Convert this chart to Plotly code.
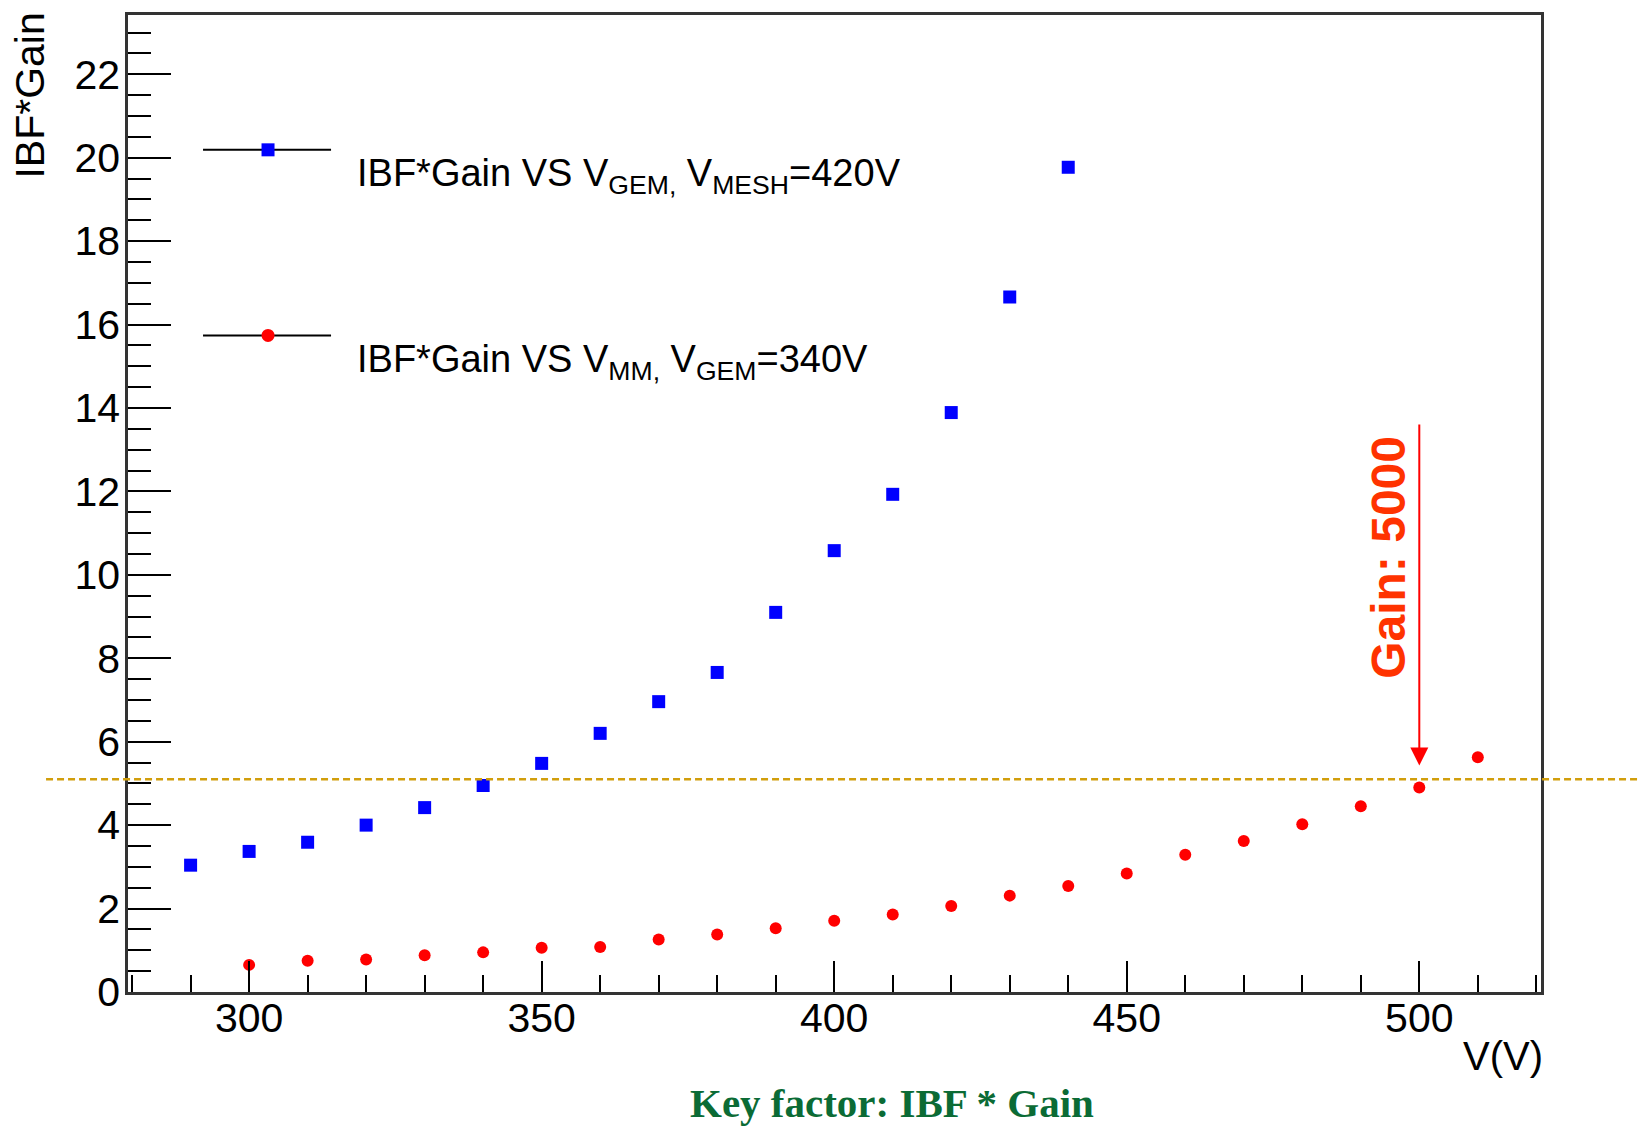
import plotly.graph_objects as go

# ---- data ----
v_gem = [290, 300, 310, 320, 330, 340, 350, 360, 370, 380, 390, 400, 410, 420, 430, 440]
ibf_gain_gem = [3.04, 3.37, 3.59, 4.00, 4.42, 4.95, 5.48, 6.20, 6.96, 7.66, 9.10, 10.58, 11.93, 13.89, 16.66, 19.77]

v_mm = [300, 310, 320, 330, 340, 350, 360, 370, 380, 390, 400, 410, 420, 430, 440, 450,
        460, 470, 480, 490, 500, 510]
ibf_gain_mm = [0.65, 0.75, 0.78, 0.88, 0.95, 1.06, 1.08, 1.26, 1.38, 1.53, 1.71, 1.86, 2.06,
               2.31, 2.54, 2.84, 3.29, 3.62, 4.02, 4.45, 4.90, 5.63]

legend_gem = "IBF*Gain VS V<sub>GEM,</sub> V<sub>MESH</sub>=420V"
legend_mm = "IBF*Gain VS V<sub>MM,</sub> V<sub>GEM</sub>=340V"
threshold = 5.1
arrow_x = 500
arrow_y_start = 13.64
arrow_y_end = 5.43
gain_label = "Gain: 5000"
x_title = "V(V)"
y_title = "IBF*Gain"
caption = "Key factor: IBF * Gain"

FONT = "Liberation Sans, Arial, sans-serif"

fig = go.Figure()
fig.add_trace(go.Scatter(x=v_gem, y=ibf_gain_gem, mode="markers",
                         marker=dict(symbol="square", size=13, color="#0000ff"),
                         showlegend=False))
fig.add_trace(go.Scatter(x=v_mm, y=ibf_gain_mm, mode="markers",
                         marker=dict(symbol="circle", size=12, color="#ff0000"),
                         showlegend=False))

# dashed threshold line, extends beyond the frame horizontally
fig.add_shape(type="line", xref="paper", yref="y", x0=-0.058, x1=1.08,
              y0=threshold, y1=threshold,
              line=dict(color="#d19e0c", width=2.5, dash="7px,4px"), layer="above")

# manual legend
leg_items = [(0.862, "square", "#0000ff", legend_gem, 0.862),
             (0.672, "circle", "#ff0000", legend_mm, 0.671)]
for ly, sym, col, txt, ty in leg_items:
    fig.add_shape(type="line", xref="paper", yref="paper", x0=0.0531, x1=0.1437,
                  y0=ly, y1=ly, line=dict(color="black", width=2))
    fig.add_shape(type="rect" if sym == "square" else "circle",
                  xref="paper", yref="paper", xsizemode="pixel", ysizemode="pixel",
                  xanchor=0.0991, yanchor=ly, x0=-6.5, x1=6.5, y0=-6.5, y1=6.5,
                  fillcolor=col, line=dict(width=0))
    fig.add_annotation(xref="paper", yref="paper", x=0.161, y=ty, xanchor="left",
                       yanchor="top", text=txt, showarrow=False,
                       font=dict(family=FONT, size=38, color="black"))

# arrow
fig.add_annotation(x=arrow_x, y=arrow_y_end, ax=arrow_x, ay=arrow_y_start,
                   xref="x", yref="y", axref="x", ayref="y", text="",
                   showarrow=True, arrowhead=2, arrowsize=1.8, arrowwidth=2,
                   arrowcolor="#ff0000")
fig.add_annotation(x=494.8, y=10.43, xref="x", yref="y", text="<b>" + gain_label + "</b>",
                   textangle=-90, showarrow=False,
                   font=dict(family=FONT, size=48, color="#ff3300"))

# axis titles and caption
fig.add_annotation(xref="paper", yref="paper", x=-0.069, y=1.004, xanchor="center",
                   yanchor="top", text=y_title, textangle=-90, showarrow=False,
                   font=dict(family=FONT, size=41, color="black"))
fig.add_annotation(xref="paper", yref="paper", x=1.003, y=-0.066, xanchor="right",
                   yanchor="middle", text=x_title, showarrow=False,
                   font=dict(family=FONT, size=40, color="black"))
fig.add_annotation(xref="paper", yref="paper", x=0.541, y=-0.1388, xanchor="center",
                   yanchor="bottom", text="<b>" + caption + "</b>", showarrow=False,
                   font=dict(family="Liberation Serif, Times New Roman, serif", size=41,
                             color="#0b6b35"))

fig.update_xaxes(range=[279.3, 520.8], dtick=50, tick0=300, ticks="inside", ticklen=31,
                 tickwidth=2, tickcolor="black", ticklabelstandoff=-12,
                 minor=dict(dtick=10, tick0=300, ticks="inside", ticklen=17,
                            tickwidth=2, tickcolor="black"),
                 showline=True, linecolor="#333333", linewidth=2.5, mirror=True,
                 showgrid=False, zeroline=False,
                 tickfont=dict(family=FONT, size=41, color="black"))
fig.update_yaxes(range=[0, 23.42], dtick=2, tick0=0, ticks="inside", ticklen=43,
                 tickwidth=2, tickcolor="black", ticklabelstandoff=-3,
                 minor=dict(dtick=0.5, tick0=0, ticks="inside", ticklen=23,
                            tickwidth=2, tickcolor="black"),
                 showline=True, linecolor="#333333", linewidth=2.5, mirror=True,
                 showgrid=False, zeroline=False,
                 tickfont=dict(family=FONT, size=41, color="black"))

# the page body adds an 8px offset; compensate so the frame lands where the reference has it
fig.update_layout(width=1641, height=1118,
                  margin=dict(l=120, r=108, t=4, b=134),
                  paper_bgcolor="white", plot_bgcolor="white",
                  showlegend=False)

fig.write_html("out.html")
